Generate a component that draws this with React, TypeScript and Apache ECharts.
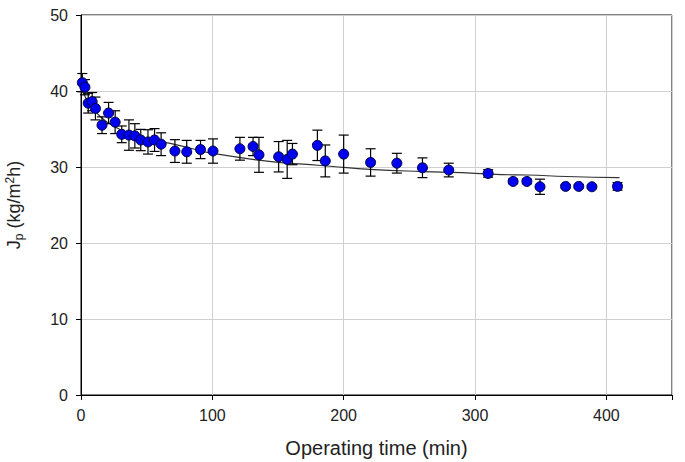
import React, { useEffect, useRef } from "react";
import * as echarts from "echarts";

const times = [1, 3, 5.5, 8.5, 11, 16, 21, 26, 31, 36.5, 41, 45.5, 51, 56, 61, 71.5, 80.5, 91, 100.5, 121, 131, 135.5, 150.5, 157, 161, 180, 186, 200, 220.5, 240.5, 260, 280, 310, 329, 339.5, 349.5, 369, 379, 389, 408.5];
const flux = [41.1, 40.5, 38.4, 38.6, 37.7, 35.5, 37.1, 35.9, 34.3, 34.2, 34.1, 33.55, 33.3, 33.55, 33.0, 32.1, 32.0, 32.3, 32.1, 32.4, 32.7, 31.6, 31.35, 31.0, 31.7, 32.85, 30.8, 31.7, 30.6, 30.5, 29.9, 29.6, 29.15, 28.1, 28.1, 27.4, 27.45, 27.45, 27.4, 27.45];
const errors = [1.2, 1.0, 1.3, 1.2, 1.5, 1.1, 1.4, 1.5, 1.1, 2.0, 1.6, 1.4, 1.6, 1.5, 1.5, 1.5, 1.5, 1.2, 1.6, 1.5, 1.2, 2.3, 2.0, 2.5, 1.4, 2.0, 2.1, 2.5, 1.8, 1.3, 1.3, 0.9, 0.5, 0.3, 0.3, 1.0, 0.2, 0.2, 0.2, 0.5];

const fitTimes = [0, 3, 6, 10, 15, 20, 30, 40, 50, 68, 85, 100, 145, 175, 190, 220, 260, 290, 320, 340, 370, 410];
const fitFlux = [40.3, 39.3, 38.4, 37.5, 36.6, 35.9, 34.9, 34.2, 33.7, 33.1, 32.4, 31.8, 30.7, 30.3, 30.1, 29.7, 29.4, 29.25, 29.0, 28.95, 28.75, 28.6];

const xTicks = [0, 100, 200, 300, 400];
const yTicks = [0, 10, 20, 30, 40, 50];

export default function App() {
  const ref = useRef<HTMLDivElement>(null);
  useEffect(() => {
    if (!ref.current) return;
    const chart = echarts.init(ref.current, undefined, { renderer: "svg" });
    const font = "Liberation Sans, Arial, sans-serif";
    chart.setOption({
      animation: false,
      backgroundColor: "#ffffff",
      grid: {
        left: 81,
        right: 13,
        top: 15,
        bottom: 67,
        show: true,
        borderColor: "#000",
        borderWidth: 1,
        backgroundColor: "transparent",
        outerBoundsMode: "none",
        containLabel: false,
      },
      xAxis: {
        type: "value",
        min: 0,
        max: 450,
        interval: 100,
        name: "Operating time (min)",
        nameLocation: "middle",
        nameGap: 43,
        nameTextStyle: { fontFamily: font, fontSize: 20, color: "#222" },
        axisLine: { show: true, lineStyle: { color: "#000", width: 1 } },
        axisTick: { show: true, inside: false, length: 5, lineStyle: { color: "#000" } },
        axisLabel: {
          fontFamily: font,
          fontSize: 16,
          color: "#222",
          margin: 12,
          formatter: (v: number) => (xTicks.includes(v) ? String(v) : ""),
        },
        splitLine: { show: true, lineStyle: { color: "#d0d0d0", width: 1 } },
      },
      yAxis: {
        type: "value",
        min: 0,
        max: 50,
        interval: 10,
        name: "J{sub|p} (kg/m{sup|2}h)",
        nameLocation: "middle",
        nameGap: 56,
        nameTextStyle: {
          fontFamily: font,
          fontSize: 18,
          color: "#222",
          rich: {
            sub: { fontFamily: font, fontSize: 12, color: "#222", padding: [10, 0, 0, 0] },
            sup: { fontFamily: font, fontSize: 12, color: "#222", padding: [0, 0, 8, 0] },
          },
        },
        axisLine: { show: true, lineStyle: { color: "#000", width: 1 } },
        axisTick: { show: true, inside: false, length: 5, lineStyle: { color: "#000" } },
        axisLabel: {
          fontFamily: font,
          fontSize: 16,
          color: "#222",
          margin: 13,
          formatter: (v: number) => (yTicks.includes(v) ? String(v) : ""),
        },
        splitLine: { show: true, lineStyle: { color: "#d0d0d0", width: 1 } },
      },
      series: [
        {
          type: "line",
          data: fitTimes.map((t, i) => [t, fitFlux[i]]),
          smooth: true,
          showSymbol: false,
          symbol: "none",
          lineStyle: { color: "#333", width: 1.2 },
          z: 1,
        },
        {
          type: "custom",
          data: times.map((t, i) => [t, flux[i], errors[i]]),
          renderItem: (params: any, api: any) => {
            const x = api.value(0);
            const y = api.value(1);
            const e = api.value(2);
            const top = api.coord([x, y + e]);
            const bot = api.coord([x, y - e]);
            const cap = 5;
            const style = { stroke: "#000", lineWidth: 1.2 };
            return {
              type: "group",
              children: [
                { type: "line", shape: { x1: top[0], y1: top[1], x2: bot[0], y2: bot[1] }, style },
                { type: "line", shape: { x1: top[0] - cap, y1: top[1], x2: top[0] + cap, y2: top[1] }, style },
                { type: "line", shape: { x1: bot[0] - cap, y1: bot[1], x2: bot[0] + cap, y2: bot[1] }, style },
              ],
            };
          },
          z: 2,
        },
        {
          type: "scatter",
          data: times.map((t, i) => [t, flux[i]]),
          symbol: "circle",
          symbolSize: 10,
          itemStyle: { color: "#0000f0", borderColor: "#000040", borderWidth: 1, opacity: 1 },
          z: 3,
        },
      ],
    });
    return () => chart.dispose();
  }, []);
  return <div ref={ref} style={{ position: "fixed", left: 0, top: 0, width: 685, height: 462 }} />;
}
